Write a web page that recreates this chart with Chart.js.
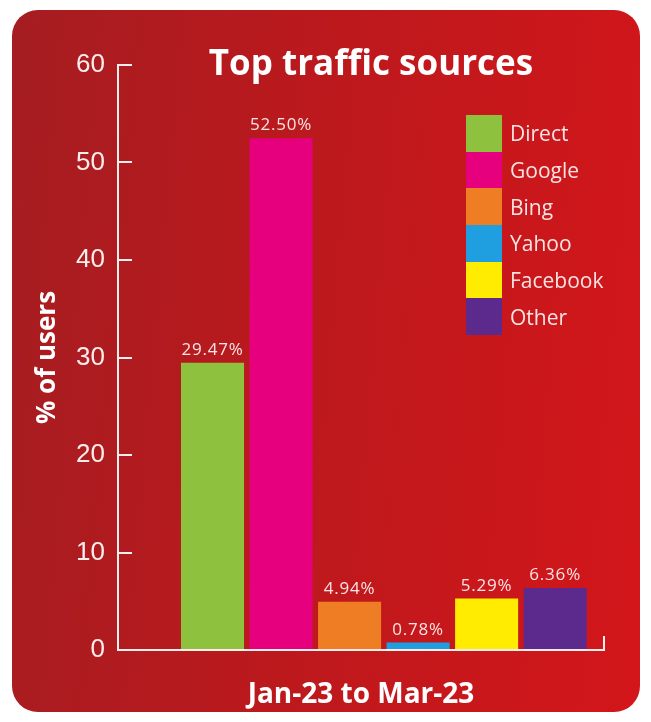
<!DOCTYPE html>
<html>
<head>
<meta charset="utf-8">
<title>Top traffic sources</title>
<script src="https://cdn.jsdelivr.net/npm/chart.js"></script>
<style>
  body { margin: 0; background: #fff; }
  #card {
    position: absolute; left: 12px; top: 10px;
    width: 628px; height: 702px;
    border-radius: 26px;
    background: linear-gradient(95deg, #a51d21 0%, #bb191d 45%, #d3161a 100%);
    overflow: hidden;
  }
  #card canvas { position: absolute; left: 0; top: 0; }
  #title {
    position: absolute; left: 359px; top: 31px;
    transform: translateX(-50%);
    font: bold 35px "Open Sans", sans-serif; line-height: 42px;
    color: #fff; white-space: nowrap;
  }
  #legend { position: absolute; left: 454px; top: 105px; }
  #legend .item { display: flex; align-items: center; height: 36.7px; }
  #legend .box { width: 36px; height: 36.7px; }
  #legend .text {
    margin-left: 8px;
    font: 500 21px "Open Sans", sans-serif;
    color: #f9e4e4;
  }
</style>
</head>
<body>
<div id="card">
  <canvas id="chart" width="628" height="702"></canvas>
  <div id="title">Top traffic sources</div>
  <div id="legend"></div>
</div>
<script>
// data
const sources = ['Direct', 'Google', 'Bing', 'Yahoo', 'Facebook', 'Other'];
const shares = [29.47, 52.50, 4.94, 0.78, 5.29, 6.36];
const period = 'Jan-23 to Mar-23';
const yTitle = '% of users';

const colors = ['#8ec23e', '#e6007e', '#ee7d23', '#1f9fdf', '#ffec00', '#5b2a8c'];
const ink = '#fdeeee';

// value labels on top of each bar
const barLabels = {
    id: 'barLabels',
    afterDatasetsDraw(chart) {
        const ctx = chart.ctx;
        ctx.save();
        ctx.font = '500 17px "Open Sans"';
        ctx.letterSpacing = '0.8px';
        ctx.fillStyle = '#fbe4e4';
        ctx.textAlign = 'center';
        ctx.textBaseline = 'bottom';
        chart.data.datasets.forEach((ds, i) => {
            chart.getDatasetMeta(i).data.forEach((bar, j) => {
                ctx.fillText(ds.data[j].toFixed(2) + '%', bar.x, bar.y - 4);
            });
        });
        ctx.restore();
    }
};

const chart = new Chart(document.getElementById('chart'), {
    type: 'bar',
    data: {
        // a single period, sitting at 0 on the x scale
        labels: [0],
        datasets: sources.map((s, i) => ({
            label: s,
            data: [shares[i]],
            backgroundColor: colors[i],
            categoryPercentage: 0.846,
            barPercentage: 0.92
        }))
    },
    options: {
        responsive: false,
        animation: false,
        layout: { padding: { top: 55, right: 36, left: 0, bottom: 0 } },
        plugins: {
            legend: { display: false },
            tooltip: { enabled: false }
        },
        scales: {
            x: {
                type: 'linear',
                min: -0.547,
                max: 0.453,
                offset: false,
                ticks: { display: false, count: 2 },
                grid: {
                    offset: false,
                    drawOnChartArea: false,
                    tickLength: -14,
                    color: ink,
                    lineWidth: 2
                },
                border: { color: ink, width: 2 },
                title: {
                    display: true,
                    text: period,
                    color: '#fff',
                    font: { family: 'Open Sans', size: 28, weight: 'bold' },
                    padding: { top: 12, bottom: 0 }
                },
                afterFit: (scale) => { scale.height = 62; }
            },
            y: {
                min: 0,
                max: 60,
                ticks: {
                    stepSize: 10,
                    color: ink,
                    padding: 27,
                    font: { family: 'Liberation Sans', size: 26 }
                },
                grid: {
                    drawOnChartArea: false,
                    tickLength: -14,
                    color: ink,
                    lineWidth: 2
                },
                border: { color: ink, width: 2 },
                title: {
                    display: true,
                    text: yTitle,
                    color: '#fff',
                    font: { family: 'Open Sans', size: 26, weight: 'bold' },
                    padding: { top: 20, bottom: 0 }
                },
                afterFit: (scale) => { scale.width = 106; }
            }
        }
    },
    plugins: [barLabels]
});

// html legend built from the chart's datasets
const legend = document.getElementById('legend');
chart.data.datasets.forEach(ds => {
    const item = document.createElement('div');
    item.className = 'item';
    item.innerHTML = '<div class="box" style="background:' + ds.backgroundColor + '"></div>' +
        '<div class="text">' + ds.label + '</div>';
    legend.appendChild(item);
});
</script>
</body>
</html>
